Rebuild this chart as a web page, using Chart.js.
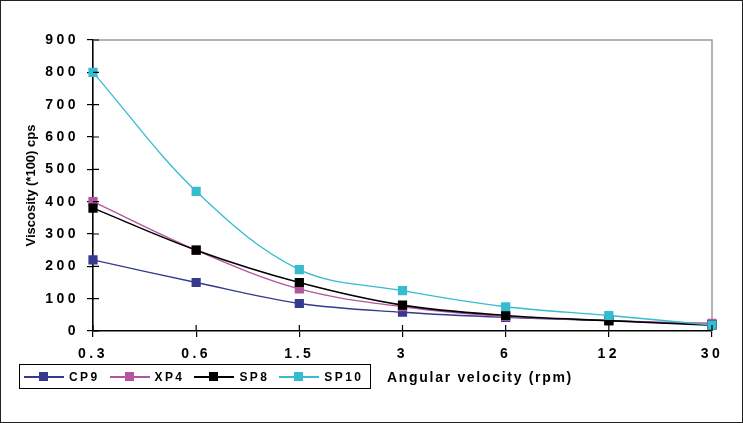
<!DOCTYPE html>
<html>
<head>
<meta charset="utf-8">
<script src="https://cdn.jsdelivr.net/npm/chart.js@4.4.0/dist/chart.umd.min.js"></script>
<style>
body { margin: 0; background: #fff; }
#wrap { position: relative; width: 743px; height: 423px; }
#legend {
  position: absolute; left: 19px; top: 364px; width: 352px; height: 25px;
  border: 1px solid #000; box-sizing: border-box; display: flex; align-items: center;
  font: bold 12px Arial, "Liberation Sans", sans-serif; letter-spacing: 2.4px; color: #000;
}
.item { display: flex; align-items: center; margin-left: 4px; margin-right: 6px; }
.swatch { position: relative; width: 40px; height: 2px; margin-right: 5px; }
.swatch span { position: absolute; left: 15px; top: -4px; width: 9px; height: 9px; }
#xtitle {
  position: absolute; left: 387px; top: 369px;
  font: bold 14px Arial, "Liberation Sans", sans-serif; letter-spacing: 1.7px; color: #000;
}
</style>
</head>
<body>
<div id="wrap">
  <canvas id="myChart" width="743" height="423"></canvas>
  <div id="legend"></div>
  <div id="xtitle">Angular velocity (rpm)</div>
</div>
<script>
// angular velocity steps (rpm)
const labels = ['0.3', '0.6', '1.5', '3', '6', '12', '30'];

// viscosity (*100 cps)
const cp9 = [220, 150, 85, 58, 42, 32, 20];
const xp4 = [400, 250, 130, 75, 45, 32, 24];
const sp8 = [380, 250, 150, 80, 48, 32, 18];
const sp10 = [800, 432, 190, 125, 75, 48, 18];

const names = ['CP9', 'XP4', 'SP8', 'SP10'];
const colors = ['#353a8e', '#b5559f', '#000000', '#35bcd0'];
const widths = [1.3, 1.3, 1.6, 1.3];
const series = [cp9, xp4, sp8, sp10];

// build the legend by hand, it sits in a box under the axis
const legend = document.getElementById('legend');
names.forEach(function (n, i) {
  const item = document.createElement('div');
  item.className = 'item';
  item.innerHTML = '<div class="swatch" style="background:' + colors[i] + '"><span style="background:' + colors[i] + '"></span></div>' + n;
  legend.appendChild(item);
});

const frame = {
  id: 'frame',
  beforeDatasetsDraw(chart) {
    const ctx = chart.ctx, a = chart.chartArea;
    ctx.save();
    ctx.strokeStyle = '#9a9a9a';
    ctx.lineWidth = 1.5;
    ctx.beginPath();
    ctx.moveTo(a.left, a.top);
    ctx.lineTo(a.right, a.top);
    ctx.lineTo(a.right, a.bottom);
    ctx.stroke();
    ctx.restore();
  },
  afterDatasetsDraw(chart) {
    chart.ctx.letterSpacing = '3.5px'; // tick labels are spaced out
  },
  afterDraw(chart) {
    const ctx = chart.ctx, a = chart.chartArea;
    ctx.letterSpacing = '0px';
    ctx.save();
    ctx.strokeStyle = '#000';
    ctx.lineWidth = 1.2;
    ctx.beginPath();
    chart.scales.y.ticks.forEach(function (t, i) {
      const y = chart.scales.y.getPixelForTick(i);
      ctx.moveTo(a.left, y);
      ctx.lineTo(a.left + 6, y);
    });
    chart.scales.x.ticks.forEach(function (t, i) {
      const x = chart.scales.x.getPixelForTick(i);
      ctx.moveTo(x, a.bottom);
      ctx.lineTo(x, a.bottom - 6);
    });
    ctx.stroke();
    ctx.strokeStyle = '#222';
    ctx.lineWidth = 1;
    ctx.strokeRect(0.5, 0.5, chart.width - 1, chart.height - 1);
    ctx.restore();
  }
};

const ctx = document.getElementById('myChart').getContext('2d');
const chart = new Chart(ctx, {
  type: 'line',
  data: {
    labels: labels,
    datasets: series.map(function (s, i) {
      return {
        label: names[i],
        data: s,
        borderColor: colors[i],
        backgroundColor: colors[i],
        borderWidth: widths[i],
        pointStyle: 'rect',
        pointRadius: 6.5,
        pointBorderWidth: 0,
        tension: 0.35,
        order: 4 - i
      };
    })
  },
  options: {
    responsive: false,
    animation: false,
    layout: { padding: { top: 40, right: 31, left: 0, bottom: 0 } },
    plugins: { legend: { display: false }, tooltip: { enabled: false } },
    scales: {
      x: {
        offset: false,
        grid: { drawOnChartArea: false, tickLength: 6, color: '#000', lineWidth: 1.2 },
        border: { color: '#000', width: 1.6 },
        ticks: { z: 1, padding: 9, color: '#000', font: { family: 'Arial', size: 14, weight: 'bold' } },
        afterFit: function (scale) { scale.height = 92; }
      },
      y: {
        min: 0,
        max: 900,
        ticks: { z: 1, stepSize: 100, padding: 8, color: '#000', font: { family: 'Arial', size: 14, weight: 'bold' } },
        grid: { drawOnChartArea: false, tickLength: 6, color: '#000', lineWidth: 1.2 },
        border: { color: '#000', width: 1.6 },
        title: {
          display: true,
          text: 'Viscosity (*100) cps',
          color: '#000',
          padding: { top: 24, bottom: 0 },
          font: { family: 'Arial', size: 13, weight: 'bold' }
        },
        afterFit: function (scale) { scale.width = 93; }
      }
    }
  },
  plugins: [frame]
});
</script>
</body>
</html>
